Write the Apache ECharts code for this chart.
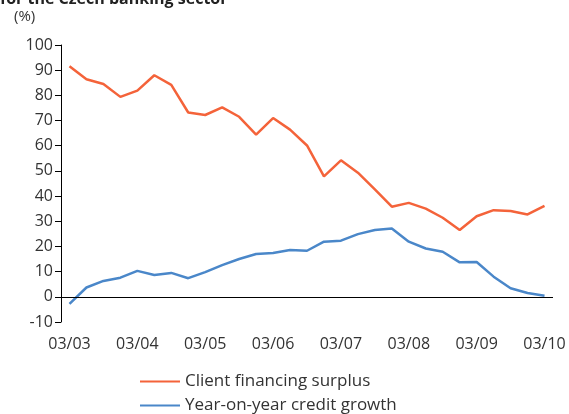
<!DOCTYPE html>
<html>
<head>
<meta charset="utf-8">
<script src="https://cdn.jsdelivr.net/npm/echarts@6/dist/echarts.min.js"></script>
<style>
html, body { margin: 0; padding: 0; background: #fff; }
#chart { width: 569px; height: 414px; }
</style>
</head>
<body>
<div id="chart"></div>
<script>
// quarterly, 2003 Q1 .. 2010 Q1
let categories = [
    '03/03', '06/03', '09/03', '12/03',
    '03/04', '06/04', '09/04', '12/04',
    '03/05', '06/05', '09/05', '12/05',
    '03/06', '06/06', '09/06', '12/06',
    '03/07', '06/07', '09/07', '12/07',
    '03/08', '06/08', '09/08', '12/08',
    '03/09', '06/09', '09/09', '12/09',
    '03/10'
];
let surplus = [
    91.6, 86.4, 84.5, 79.4, 81.9, 88.0, 84.2, 73.2,
    72.2, 75.2, 71.5, 64.4, 71.0, 66.4, 60.1, 47.8,
    54.2, 49.3, 42.7, 35.8, 37.3, 35.0, 31.4, 26.5,
    32.0, 34.4, 34.1, 32.7, 36.1
];
let creditGrowth = [
    -2.8, 3.7, 6.3, 7.6, 10.3, 8.7, 9.5, 7.4,
    9.8, 12.6, 15.0, 17.0, 17.4, 18.6, 18.3, 21.9,
    22.3, 24.9, 26.5, 27.1, 21.9, 19.2, 17.9, 13.7,
    13.8, 8.0, 3.4, 1.5, 0.4
];
let legendNames = ['Client financing surplus', 'Year-on-year credit growth'];
let colors = ['#f4633a', '#4a87c9'];

let myChart = echarts.init(document.getElementById('chart'));

// one legend per entry so they stack
let legends = legendNames.map((name, i) => ({
    data: [name],
    left: 140,
    top: 373 + i * 24,
    padding: 0,
    icon: 'rect',
    itemWidth: 40,
    itemHeight: 2,
    textStyle: { fontSize: 17, color: '#333' }
}));

let option = {
    animation: false,
    textStyle: { fontFamily: 'Open Sans' },
    title: [
        {
            text: 'for the Czech banking sector',
            left: -5,
            top: -14,
            textStyle: { fontSize: 16, fontWeight: 'bold', color: '#222' }
        },
        {
            text: '(%)',
            left: 9,
            top: 4,
            textStyle: { fontSize: 15, fontWeight: 'normal', color: '#333' }
        }
    ],
    legend: legends,
    grid: {
        left: 61,
        right: 16,
        top: 45,
        bottom: 92
    },
    xAxis: {
        type: 'category',
        boundaryGap: true,
        data: categories,
        axisLine: { show: false },
        axisTick: { show: false },
        axisLabel: {
            interval: 3,
            margin: 14,
            fontSize: 16,
            color: '#333'
        }
    },
    yAxis: {
        type: 'value',
        min: -10,
        max: 100,
        interval: 10,
        splitLine: { show: false },
        axisLine: { show: true, lineStyle: { color: '#000', width: 1 } },
        axisTick: { show: true, length: 6, lineStyle: { color: '#000' } },
        axisLabel: { fontSize: 16, color: '#333', margin: 8 }
    },
    series: [
        {
            name: legendNames[0],
            type: 'line',
            data: surplus,
            symbol: 'none',
            lineStyle: { color: colors[0], width: 2.5 },
            itemStyle: { color: colors[0] },
            markLine: {
                silent: true,
                symbol: 'none',
                label: { show: false },
                lineStyle: { color: '#000', width: 1, type: 'solid' },
                data: [{ yAxis: 0 }]
            }
        },
        {
            name: legendNames[1],
            type: 'line',
            data: creditGrowth,
            symbol: 'none',
            lineStyle: { color: colors[1], width: 2.5 },
            itemStyle: { color: colors[1] }
        }
    ]
};

myChart.setOption(option);
</script>
</body>
</html>
